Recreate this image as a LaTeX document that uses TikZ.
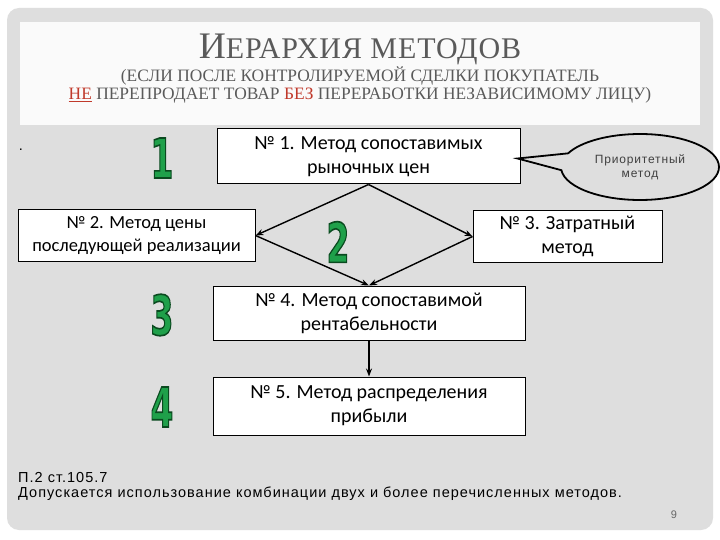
\documentclass[tikz,border=0pt]{standalone}
\usepackage{fontspec}
\setmainfont{Liberation Serif}
\newfontfamily\titlefont[LetterSpace=3]{Liberation Serif}
\newfontfamily\subfont{Liberation Serif}
\newfontfamily\boxfont{Carlito}
\newfontfamily\notefont[LetterSpace=7]{Liberation Sans}
\newfontfamily\digitfont[FakeBold=3]{DejaVu Sans}
\usetikzlibrary{shapes.callouts, arrows.meta, calc}

\definecolor{slidegray}{HTML}{DEDEDE}
\definecolor{titlewhite}{HTML}{FAFAFA}
\definecolor{titlegray}{HTML}{5A5A5A}
\definecolor{accentred}{HTML}{C0392B}
\definecolor{numgreen}{HTML}{1FA04A}

% green digit with a dark green stroke
\newcommand\bignum[1]{{\color{numgreen}\special{pdf:literal direct 0.04 0.29 0.12 RG}\scalebox{.6}[1]{#1}}}

\begin{document}
\begin{tikzpicture}[x=1pt, y=-1pt,
    box/.style={rectangle, draw=black, line width=1pt, fill=white, inner sep=0pt, align=center, font=\boxfont\fontsize{20}{24}\selectfont},
    num/.style={inner sep=0pt, font=\digitfont\bfseries\fontsize{55}{55}\selectfont},
    note/.style={inner sep=0pt, anchor=base west, font=\notefont\fontsize{14.5}{15}\selectfont},
    heading/.style={anchor=base, inner sep=0pt, text=titlegray},
    arrow/.style={-{Stealth[length=8pt, width=6pt]}, line width=1.4pt},
    bubble/.style={ellipse callout, draw=black, line width=1.8pt, fill=slidegray, inner sep=0pt, minimum width=158pt, minimum height=66pt, callout pointer arc=30, align=center, text=black!75, font=\notefont\fontsize{12}{14}\selectfont}
  ]
  \useasboundingbox (0,0) rectangle (720,540);
  \fill [white] (0,0) rectangle (720,540);
  \fill [slidegray, rounded corners=12pt] (7,8) rectangle (713,530);
  \fill [titlewhite] (20,22) rectangle (700,125);

  \node (title) [heading, font=\titlefont] at (360,59) {\fontsize{37.5}{37.5}\selectfont И\fontsize{30}{30}\selectfont ЕРАРХИЯ МЕТОДОВ};
  \node (sub1) [heading, font=\subfont\fontsize{17.4}{18}\selectfont] at (360,82) {(ЕСЛИ ПОСЛЕ КОНТРОЛИРУЕМОЙ СДЕЛКИ ПОКУПАТЕЛЬ};
  \node (sub2) [heading, font=\subfont\fontsize{17.4}{18}\selectfont] at (360,100) {\textcolor{accentred}{\underline{НЕ}} ПЕРЕПРОДАЕТ ТОВАР \textcolor{accentred}{БЕЗ} ПЕРЕРАБОТКИ НЕЗАВИСИМОМУ ЛИЦУ)};

  \node (m1) [box, minimum width=303pt, minimum height=55pt] at (368.5,156.5) {№ 1. Метод сопоставимых\\рыночных цен};
  \node (m2) [box, minimum width=237pt, minimum height=51pt, font=\boxfont\fontsize{18.5}{23}\selectfont] at (136.5,235.5) {№ 2. Метод цены\\последующей реализации};
  \node (m3) [box, minimum width=189pt, minimum height=51pt] at (567.5,236.5) {№ 3. Затратный\\метод};
  \node (m4) [box, minimum width=312pt, minimum height=54pt] at (369,313) {№ 4. Метод сопоставимой\\рентабельности};
  \node (m5) [box, minimum width=312pt, minimum height=58pt] at (369,406) {№ 5. Метод распределения\\прибыли};

  \node (prio) [bubble, callout absolute pointer={($(m1.east)+(-3,2)$)}] at (640,167) {Приоритетный\\метод};

  \draw [arrow] (m1.south) -- (m2.east);
  \draw [arrow] (m1.south) -- (m3.west);
  \draw [arrow] (m2.east) -- (m4.north);
  \draw [arrow] (m3.west) -- (m4.north);
  \draw [arrow] (m4) -- (m5);

  \node (one) [num] at (162,158) {\bignum{1}};
  \node (two) [num] at (338,242) {\bignum{2}};
  \node (three) [num] at (162,315) {\bignum{3}};
  \node (four) [num] at (162,407) {\bignum{4}};

  \node (dot) [note, anchor=base] at (21,151) {.};
  \node (ref) [note] at (18,482) {П.2 ст.105.7};
  \node (rule) [note] at (18,497) {Допускается использование комбинации двух и более перечисленных методов.};
  \node (page) [note, anchor=base, font=\notefont\fontsize{11}{13}\selectfont, text=black!60] at (674,518) {9};
\end{tikzpicture}
\end{document}
